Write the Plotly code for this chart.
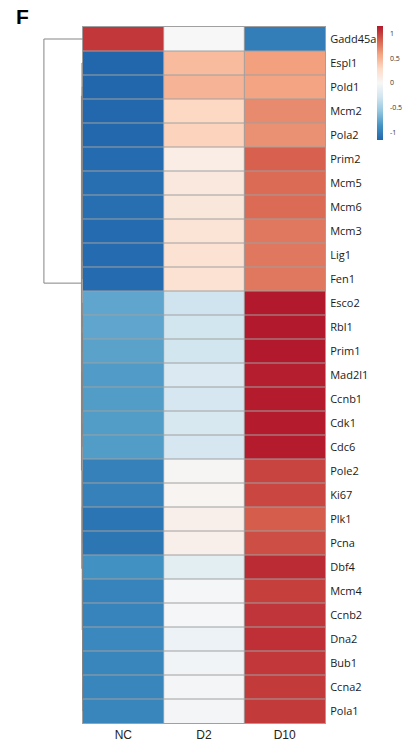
import plotly.graph_objects as go

# ---- data -------------------------------------------------------------
genes = ["Gadd45a", "Espl1", "Pold1", "Mcm2", "Pola2", "Prim2", "Mcm5", "Mcm6",
         "Mcm3", "Lig1", "Fen1", "Esco2", "Rbl1", "Prim1", "Mad2l1", "Ccnb1",
         "Cdk1", "Cdc6", "Pole2", "Ki67", "Plk1", "Pcna", "Dbf4", "Mcm4",
         "Ccnb2", "Dna2", "Bub1", "Ccna2", "Pola1"]
samples = ["NC", "D2", "D10"]

# row-scaled expression (z-scores)
nc = [1.03, -1.15, -1.15, -1.14, -1.14, -1.12, -1.10, -1.10, -1.12, -1.12, -1.12,
      -0.76, -0.76, -0.78, -0.82, -0.81, -0.81, -0.81, -0.98, -0.98, -1.06, -1.05,
      -0.88, -0.97, -0.97, -0.94, -0.95, -0.95, -0.95]
d2 = [0.00, 0.46, 0.50, 0.30, 0.33, 0.10, 0.15, 0.16, 0.20, 0.22, 0.22,
      -0.30, -0.28, -0.28, -0.22, -0.25, -0.24, -0.25, 0.02, 0.03, 0.08, 0.08,
      -0.15, -0.02, -0.02, -0.08, -0.05, -0.03, -0.03]
d10 = [-1.00, 0.60, 0.58, 0.69, 0.66, 0.86, 0.82, 0.82, 0.77, 0.77, 0.77,
       1.15, 1.15, 1.15, 1.13, 1.14, 1.14, 1.14, 0.98, 0.97, 0.88, 0.94,
       1.08, 1.00, 1.04, 1.06, 1.03, 1.02, 1.02]

# row clustering: (left, right, height); ids >= len(genes) refer to earlier merges
merges = [
    (3, 4, 0.006), (6, 7, 0.004), (5, 30, 0.008), (8, 9, 0.004), (32, 10, 0.007),
    (31, 33, 0.012), (29, 34, 0.016), (2, 35, 0.020), (1, 36, 0.026),
    (11, 12, 0.005), (38, 13, 0.008), (14, 15, 0.004), (16, 17, 0.003),
    (40, 41, 0.007), (39, 42, 0.016), (18, 19, 0.005), (20, 21, 0.007),
    (44, 45, 0.013), (23, 24, 0.004), (22, 47, 0.009), (25, 26, 0.006),
    (27, 28, 0.003), (49, 50, 0.008), (48, 51, 0.012), (46, 52, 0.020),
    (43, 53, 0.030), (37, 54, 0.040), (0, 55, 1.000),
]

colorscale = [
    [0.0, "#2166AC"], [0.125, "#4393C3"], [0.25, "#92C5DE"], [0.375, "#D1E5F0"],
    [0.5, "#F7F7F7"], [0.625, "#FDDBC7"], [0.75, "#F4A582"], [0.875, "#D6604D"],
    [1.0, "#B2182B"],
]
zlim = 1.155
grid_color = "#a0a0a0"

W, H = 419, 742
hm_left, hm_right, hm_top, hm_bottom = 83, 325, 27, 723
dendro_left = 40

rows = list(range(len(genes)))
cols = list(range(len(samples)))
z = [[a, b, c] for a, b, c in zip(nc, d2, d10)]

fig = go.Figure()

fig.add_trace(go.Heatmap(
    z=z, x=cols, y=rows,
    colorscale=colorscale, zmin=-zlim, zmax=zlim,
    colorbar=dict(
        x=377 / W, xanchor="left", y=1 - 26 / H, yanchor="top",
        thickness=6, thicknessmode="pixels", len=114, lenmode="pixels",
        outlinewidth=0, ticks="outside", ticklen=6, tickcolor="rgba(0,0,0,0)",
        tickvals=[-1, -0.5, 0, 0.5, 1],
        ticktext=["-1", "-0.5", "0", "0.5", "1"],
        tickfont=dict(family="Open Sans", size=7, color="#333333"),
        xpad=0, ypad=0,
    ),
    hoverinfo="skip",
))

# ---- dendrogram -------------------------------------------------------
pos = {i: float(i) for i in rows}
hgt = {i: 0.0 for i in rows}
dx, dy = [], []
for k, (a, b, h) in enumerate(merges):
    nid = len(genes) + k
    dx += [hgt[a], h, h, hgt[b], None]
    dy += [pos[a], pos[a], pos[b], pos[b], None]
    pos[nid] = (pos[a] + pos[b]) / 2
    hgt[nid] = h

fig.add_trace(go.Scatter(
    x=dx, y=dy, xaxis="x2", yaxis="y", mode="lines",
    line=dict(color="#858585", width=1), hoverinfo="skip", showlegend=False,
    cliponaxis=False,
))

# cell borders
shapes = []
for i in rows[:-1]:
    shapes.append(dict(type="line", xref="x", yref="y", x0=-0.5, x1=len(samples) - 0.5,
                       y0=i + 0.5, y1=i + 0.5, line=dict(color=grid_color, width=1),
                       layer="above"))
for j in cols[:-1]:
    shapes.append(dict(type="line", xref="x", yref="y", x0=j + 0.5, x1=j + 0.5,
                       y0=-0.5, y1=len(genes) - 0.5, line=dict(color=grid_color, width=1),
                       layer="above"))

fig.update_layout(
    width=W, height=H, margin=dict(l=0, r=0, t=0, b=0),
    paper_bgcolor="white", plot_bgcolor="white",
    shapes=shapes,
    xaxis=dict(
        domain=[hm_left / W, hm_right / W], range=[-0.5, len(samples) - 0.5],
        tickvals=cols, ticktext=samples, ticks="", showgrid=False, zeroline=False,
        tickfont=dict(family="Liberation Sans Narrow, Liberation Sans", size=12,
                      color="#222222"),
        ticklabelstandoff=1,
        showline=True, mirror=True, linecolor=grid_color, linewidth=1,
    ),
    yaxis=dict(
        domain=[1 - hm_bottom / H, 1 - hm_top / H], range=[len(genes) - 0.5, -0.5],
        tickvals=rows, ticktext=genes, side="right", ticks="", showgrid=False,
        zeroline=False, tickfont=dict(family="Open Sans", size=11, color="#1a1a1a"),
        ticklabelstandoff=2,
        showline=True, mirror=True, linecolor=grid_color, linewidth=1,
    ),
    xaxis2=dict(
        domain=[dendro_left / W, hm_left / W], range=[1.1, 0], anchor="y",
        visible=False, showgrid=False, zeroline=False,
    ),
    annotations=[dict(
        text="<b>F</b>", x=14 / W, y=1 - 3 / H, xref="paper", yref="paper",
        xanchor="left", yanchor="top",
        showarrow=False, font=dict(family="Liberation Sans", size=21, color="black"),
    )],
)

fig.write_html("out.html")
